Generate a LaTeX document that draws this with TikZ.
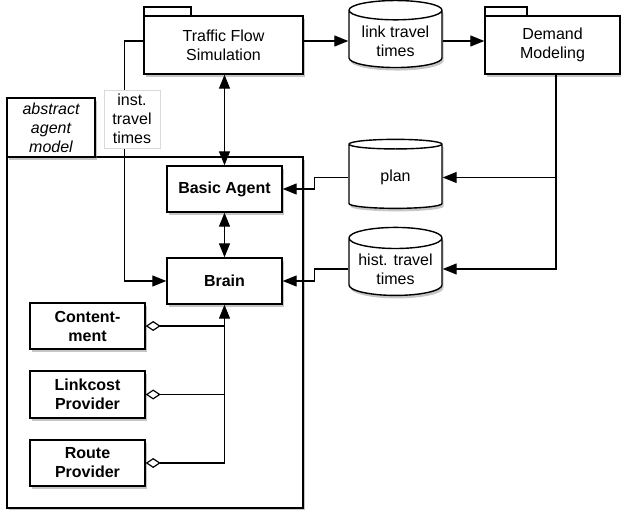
\documentclass[tikz,border=0pt]{standalone}
\usepackage{fontspec}
\setmainfont{Liberation Sans}
\usetikzlibrary{shapes.geometric,arrows.meta,shadows}

\begin{document}
\begin{tikzpicture}[x=1pt,y=-1pt,
    every node/.style={font=\fontsize{16}{19}\selectfont},
    shade/.style={drop shadow={shadow xshift=1.5pt,shadow yshift=-3pt,opacity=0.45}},
    box/.style={draw,line width=1.4pt,fill=white,shade,minimum width=115pt,minimum height=46pt,align=center,font=\fontsize{16}{19}\selectfont\bfseries},
    pkg/.style={draw,line width=1.4pt,fill=white,shade,align=center},
    store/.style={cylinder,shape border rotate=90,aspect=0.26,draw,line width=1.4pt,fill=white,shade,minimum width=93pt,minimum height=67pt,align=center},
    link/.style={line width=1.2pt,-{Triangle[length=14pt,width=11pt]}},
    both/.style={line width=1.2pt,{Triangle[length=14pt,width=11pt]}-{Triangle[length=14pt,width=11pt]}},
    part/.style={line width=1.2pt,{Diamond[open,length=15pt,width=10pt]}-},
    partlink/.style={line width=1.2pt,{Diamond[open,length=15pt,width=10pt]}-{Triangle[length=14pt,width=11pt]}}]
    \useasboundingbox (0,0) rectangle (621,510);
    % packages
    \node[pkg,minimum width=296pt,minimum height=351pt] (agentmodel) at (155,332.5) {};
    \node[pkg,minimum width=88pt,minimum height=59pt,font=\fontsize{16}{19}\selectfont\itshape] (agenttab) at (51,127.5) {abstract\\agent\\model};
    \draw[line width=1.4pt,fill=white] (144,16) rectangle (191,7);
    \node[pkg,minimum width=159pt,minimum height=58pt] (tfs) at (223.5,45) {Traffic Flow\\Simulation};
    \draw[line width=1.4pt,fill=white] (485,16) rectangle (527,7);
    \node[pkg,minimum width=135pt,minimum height=58pt] (demand) at (552.5,45) {Demand\\Modeling};
    % data stores
    \node[store] (linktt) at (395.5,41) {link travel\\times};
    \node[store,minimum height=69pt] (plan) at (395.5,177.5) {plan};
    \node[store,minimum height=68pt] (histtt) at (395.5,269) {hist. travel\\times};
    % agent parts
    \node[box] (basic) at (224.5,189) {Basic Agent};
    \node[box] (brain) at (224.5,281) {Brain};
    \node[box] (content) at (87.5,326) {Content-\\ment};
    \node[box,minimum height=47pt] (linkcost) at (87.5,394.5) {Linkcost\\Provider};
    \node[box] (route) at (87.5,463) {Route\\Provider};
    \coordinate (fork) at (556,178);
    % connectors
    \draw[link] (tfs.east |- linktt.west) -- (linktt.west);
    \draw[link] (linktt.east) -- (linktt.east -| demand.west);
    \draw[link] (demand.south -| fork) |- (plan.east);
    \draw[link] (demand.south -| fork) |- (histtt.east);
    \draw[link] (plan.west) -- ++(-34,0) |- (basic.east);
    \draw[link] (histtt.west) -- ++(-34,0) |- (brain.west -| basic.east);
    \draw[both] (tfs.south -| basic) -- (basic.north);
    \draw[both] (basic.south) -- (brain.north);
    \draw[link] ([yshift=4pt]tfs.west) -- ++(-19,0) |- (brain.west);
    \node[draw=gray!30,fill=white,minimum width=56pt,minimum height=58pt,align=center,inner sep=1pt] (instlabel) at (132,119) {inst.\\travel\\times};
    \draw[part] (content.east) -- (content.east -| brain.south);
    \draw[part] (linkcost.east) -- (linkcost.east -| brain.south);
    \draw[partlink] (route.east) -| (brain.south);
\end{tikzpicture}
\end{document}
